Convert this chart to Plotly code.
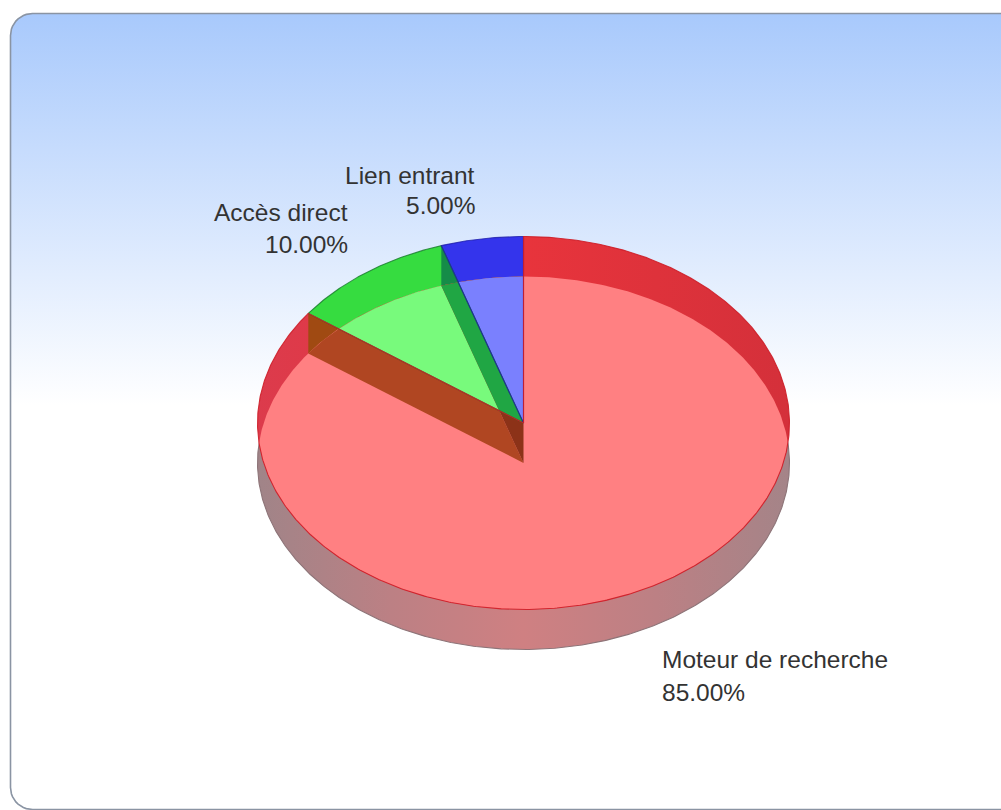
import numpy as np
import plotly.graph_objects as go

# ---- data ----
categories = ["Moteur de recherche", "Accès direct", "Lien entrant"]
shares = [85.0, 10.0, 5.0]

# ---- style / geometry ----
W, H = 1001, 810
CX, CY_UP, CY_LOW = 523.5, 423.0, 463.0
RX, RY = 266.0, 186.5
UP_ONLY = ["#e2363f", "#36dc40", "#3434ec"]
LENS = "#ff8082"
MIX_RED_OVER = {1: "#b04622", 2: "#8c3218"}
MIX = {(1, 1): "#78fa7c", (1, 2): "#20a644", (2, 2): "#7a80fe"}
WALL_RIM = {1: "#a04a12", 2: "#158c48"}
LABEL_POS = [(660, 659, 692, "left"), (349.5, 212, 244, "right"), (476.5, 175, 205, "right")]


def sector(cy, a0, a1):
    n = max(3, int(abs(a1 - a0) * 2))
    t = np.radians(np.linspace(a0, a1, n))
    xs = CX + RX * np.sin(t)
    ys = cy - RY * np.cos(t)
    if a1 - a0 >= 360:
        return list(zip(xs, ys))
    return [(CX, cy)] + list(zip(xs, ys))


def wall(a):
    """Side face of a slice boundary at angle a, between both discs."""
    t = np.radians(a)
    x, dy = CX + RX * np.sin(t), -RY * np.cos(t)
    return [(CX, CY_UP), (x, CY_UP + dy), (x, CY_LOW + dy), (CX, CY_LOW)]


def clip(subject, clipper):
    """Sutherland-Hodgman: clip polygon against a convex polygon."""
    area = sum(clipper[i][0] * clipper[(i + 1) % len(clipper)][1]
               - clipper[(i + 1) % len(clipper)][0] * clipper[i][1]
               for i in range(len(clipper)))
    sign = 1 if area > 0 else -1
    out = list(subject)
    for i in range(len(clipper)):
        a, b = clipper[i], clipper[(i + 1) % len(clipper)]
        if abs(a[0] - b[0]) + abs(a[1] - b[1]) < 1e-9:
            continue
        side = lambda p: sign * ((b[0] - a[0]) * (p[1] - a[1]) - (b[1] - a[1]) * (p[0] - a[0]))
        src, out = out, []
        for k in range(len(src)):
            p, q = src[k], src[(k + 1) % len(src)]
            sp, sq = side(p), side(q)
            if sp >= 0:
                out.append(p)
            if (sp >= 0) != (sq >= 0):
                t = sp / (sp - sq)
                out.append((p[0] + t * (q[0] - p[0]), p[1] + t * (q[1] - p[1])))
        if not out:
            return []
    return out


def poly_trace(pts, color=None, line=None, width=0, gradient=None):
    xs = [p[0] for p in pts] + [pts[0][0]]
    ys = [p[1] for p in pts] + [pts[0][1]]
    kw = {}
    if gradient is not None:
        kw["fillgradient"] = gradient
    elif color is not None:
        kw["fillcolor"] = color
    return go.Scatter(
        x=xs, y=ys, mode="lines", fill="toself" if (color or gradient) else "none",
        line=dict(color=line or "rgba(0,0,0,0)", width=width),
        hoverinfo="skip", showlegend=False, **kw)


def round_rect(x0, y0, x1, y1, r):
    pts = []
    for cx, cy, a0 in [(x0 + r, y0 + r, 180), (x1 - r, y0 + r, 270), (x1 - r, y1 - r, 0), (x0 + r, y1 - r, 90)]:
        for a in np.radians(np.linspace(a0, a0 + 90, 12)):
            pts.append((cx + r * np.cos(a), cy + r * np.sin(a)))
    return pts


fig = go.Figure()

# background panel
fig.add_trace(poly_trace(
    round_rect(10.5, 13.5, 1030, 809.5, 22), line="#8a94a3", width=1.6,
    gradient=dict(type="vertical", start=13, stop=405,
                  colorscale=[[0, "#a8c9fc"], [1, "#ffffff"]])))

# slice angles from the data
total = sum(shares)
edges = np.concatenate([[0], np.cumsum(shares)]) / total * 360
low = [sector(CY_LOW, edges[i], edges[i + 1]) for i in range(len(shares))]
up = [sector(CY_UP, edges[i], edges[i + 1]) for i in range(len(shares))]
ell_up = sector(CY_UP, 0, 360)[:-1]
ell_low = sector(CY_LOW, 0, 360)[:-1]

# lower disc
side_grad = dict(type="horizontal", start=CX - RX, stop=CX + RX,
                 colorscale=[[0, "#a08488"], [0.25, "#bc8084"], [0.5, "#cf8082"],
                             [0.75, "#bc8084"], [1, "#a48488"]])
for p in low:
    fig.add_trace(poly_trace(p, gradient=side_grad, line="#8d7478", width=1.1))

# upper disc
rim_grad = dict(type="horizontal", start=CX - RX, stop=CX + RX,
                colorscale=[[0, "#dc3b4c"], [0.5, "#e8343c"], [1, "#d4303a"]])
for i, p in enumerate(up):
    if i == 0:
        fig.add_trace(poly_trace(p, gradient=rim_grad))
    else:
        fig.add_trace(poly_trace(p, color=UP_ONLY[i]))

# side faces of the slices, where they show over the rim
for j, col in WALL_RIM.items():
    fig.add_trace(poly_trace(wall(edges[j]), color=col))

# overlap of both discs
lens = clip(ell_up, ell_low)
fig.add_trace(poly_trace(lens, color=LENS))
for j, col in MIX_RED_OVER.items():
    q = clip(low[j], lens)
    if len(q) > 2:
        fig.add_trace(poly_trace(q, color=col))
for (i, j), col in MIX.items():
    q = clip(clip(up[i], low[j]), ell_low)
    if len(q) > 2:
        fig.add_trace(poly_trace(q, color=col))

# slice outlines of the upper disc
for i, col in [(1, "rgba(20,120,40,0.8)"), (2, "rgba(30,30,170,0.8)"), (0, "rgba(205,30,40,0.9)")]:
    fig.add_trace(poly_trace(up[i], line=col, width=1.1))

# labels
for name, v, (x, y1, y2, al) in zip(categories, shares, LABEL_POS):
    for txt, y in [(name, y1), (f"{v:.2f}%", y2)]:
        fig.add_annotation(x=x, y=y, text=txt, showarrow=False, xref="x", yref="y",
                           xanchor=al, yanchor="middle",
                           font=dict(family="Liberation Sans", size=24.5, color="#333333"))

fig.update_layout(
    width=W, height=H, margin=dict(l=0, r=0, t=0, b=0),
    paper_bgcolor="#ffffff", plot_bgcolor="rgba(0,0,0,0)", showlegend=False,
    xaxis=dict(range=[0, W], visible=False, fixedrange=True),
    yaxis=dict(range=[H, 0], visible=False, fixedrange=True),
)
fig.write_html("out.html", config=dict(displayModeBar=False),
               post_script="document.body.style.margin='0';document.body.style.overflow='hidden';")
